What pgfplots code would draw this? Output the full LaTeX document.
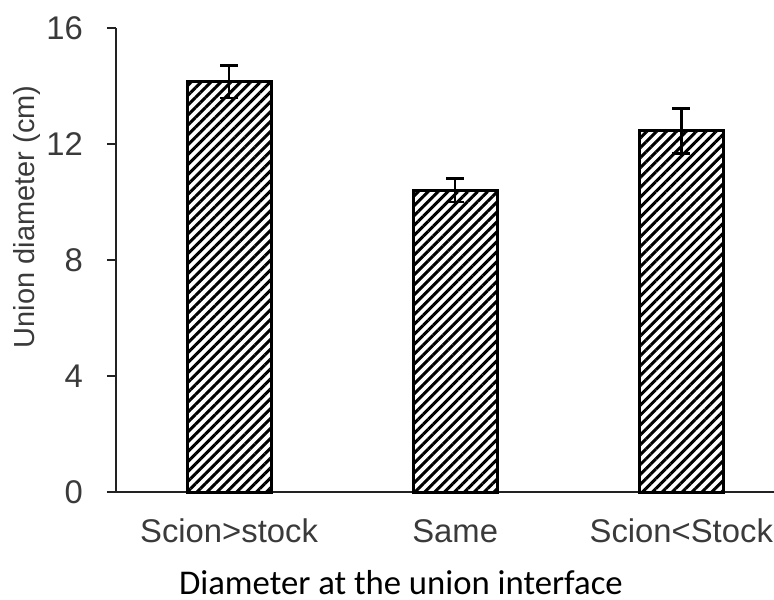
\documentclass[border=0pt]{standalone}
\usepackage{pgfplots}
\pgfplotsset{compat=1.18}
\usepackage{fontspec}
\setmainfont{Liberation Sans}
\newfontfamily\calibri{Carlito}
\usetikzlibrary{patterns.meta}
\definecolor{axisgrey}{HTML}{222222}
\definecolor{labgrey}{HTML}{3A3A3A}
\begin{document}
\begin{tikzpicture}
\begin{axis}[
  scale only axis,
  width=329bp, height=232bp,
  xmin=-0.5, xmax=2.41,
  ymin=0, ymax=16,
  axis x line=bottom, axis y line=left,
  axis line style={axisgrey, line width=1bp, -},
  x axis line style={shorten <=-4.5bp},
  xtick={0,1,2},
  xticklabels={Scion>stock, Same, Scion<Stock},
  major x tick style={draw=none},
  extra x ticks={-0.5,0.5,1.5},
  extra x tick labels={},
  extra x tick style={tick align=outside, major tick length=4bp, tick style={axisgrey, line width=1bp}},
  ytick={0,4,8,12,16},
  tick align=outside,
  major tick length=4.5bp,
  tick style={axisgrey, line width=1bp},
  /pgf/number format/assume math mode=true,
  ticklabel style={font=\fontsize{16.4bp}{19bp}\selectfont, text=labgrey},
  yticklabel style={xshift=-8.5bp},
  xticklabel style={anchor=base, yshift=-20.5bp},
  clip=false,
]
\addplot[ybar, bar width=42bp, draw=black, line width=1.5bp,
  pattern={Lines[angle=45, distance=3.5bp, line width=1.5bp]}, pattern color=black,
  error bars/.cd, y dir=both, y explicit,
  error bar style={black, line width=1.3bp},
  error mark options={rotate=90, mark size=4.5bp, line width=1.3bp, black}]
  coordinates {(0,14.15) +- (0,0.56) (1,10.40) +- (0,0.40) (2,12.45) +- (0,0.78)};
\node[xshift=-44.5bp, rotate=90, font=\fontsize{14.5bp}{17bp}\selectfont, text=labgrey]
  at (rel axis cs:0,0.593) {Union diameter (cm)};
\node[anchor=base, text depth=0pt, inner sep=0pt, font=\calibri\fontsize{17.35bp}{20bp}\selectfont]
  at (rel axis cs:0.433,0) [yshift=-51bp] {Diameter at the union interface};
\end{axis}
\pgfresetboundingbox
\path (-58bp,-54bp) rectangle (329bp,246bp);
\end{tikzpicture}
\end{document}
